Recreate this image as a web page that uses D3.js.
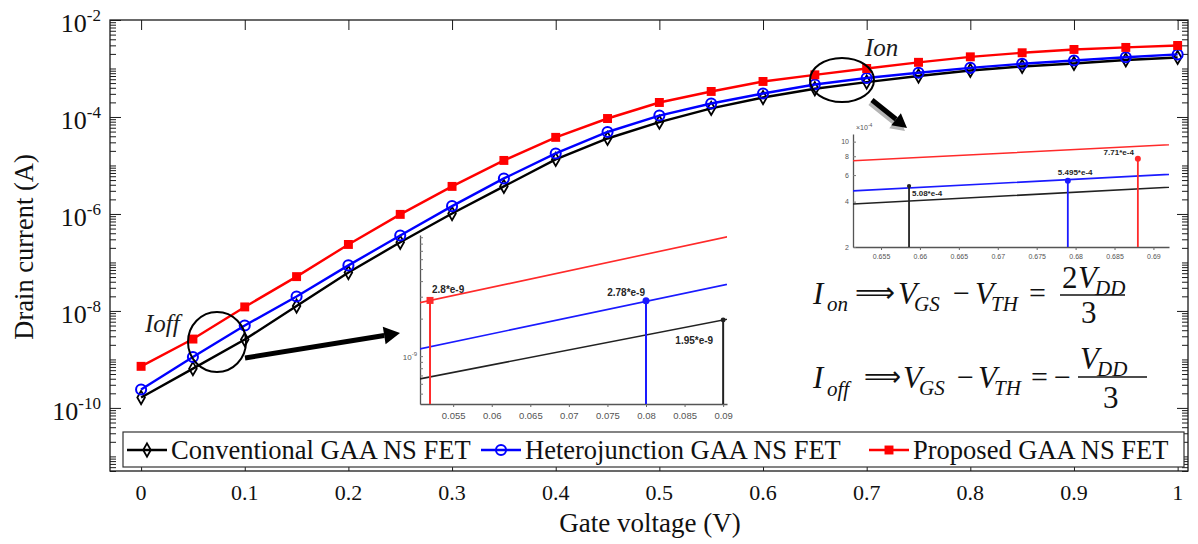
<!DOCTYPE html>
<html>
<head>
<meta charset="utf-8">
<script src="https://cdn.jsdelivr.net/npm/d3@7/dist/d3.min.js"></script>
<style>
  html, body { margin: 0; padding: 0; background: #fff; }
  svg { display: block; }
</style>
</head>
<body>
<svg id="chart" width="1198" height="544"></svg>
<script>
// Transfer characteristics of three GAA nanosheet FETs (drain current vs. gate voltage)
const gateVoltage = [0, 0.05, 0.1, 0.15, 0.2, 0.25, 0.3, 0.35, 0.4, 0.45, 0.5, 0.55, 0.6, 0.65, 0.7, 0.75, 0.8, 0.85, 0.9, 0.95, 1];
const conventionalCurrent = [1.64e-10, 6.45e-10, 2.57e-9, 1.26e-8, 6.2e-8, 2.6e-7, 1.02e-6, 3.7e-6, 1.33e-5, 3.6e-5, 7.8e-5, 1.5e-4, 2.52e-4, 3.82e-4, 5.24e-4, 7.0e-4, 9.1e-4, 1.1e-3, 1.27e-3, 1.5e-3, 1.69e-3];
const heterojunctionCurrent = [2.4e-10, 1.12e-9, 5.0e-9, 1.99e-8, 8.7e-8, 3.6e-7, 1.45e-6, 5.4e-6, 1.77e-5, 4.9e-5, 1.07e-4, 1.9e-4, 3.05e-4, 4.67e-4, 6.38e-4, 8.15e-4, 1.03e-3, 1.25e-3, 1.46e-3, 1.71e-3, 1.95e-3];
const proposedCurrent = [7.2e-10, 2.63e-9, 1.21e-8, 5.1e-8, 2.35e-7, 9.8e-7, 3.7e-6, 1.27e-5, 3.8e-5, 9.3e-5, 1.99e-4, 3.36e-4, 5.4e-4, 7.4e-4, 1.0e-3, 1.34e-3, 1.74e-3, 2.11e-3, 2.47e-3, 2.72e-3, 2.98e-3];

const seriesNames = ["Conventional GAA NS FET", "Heterojunction GAA NS FET", "Proposed GAA NS FET"];

const xTicks = [0, 0.1, 0.2, 0.3, 0.4, 0.5, 0.6, 0.7, 0.8, 0.9, 1];
const xTickLabels = ["0", "0.1", "0.2", "0.3", "0.4", "0.5", "0.6", "0.7", "0.8", "0.9", "1"];
const yLabelExponents = [-10, -8, -6, -4, -2];

// Off-state zoom (data tips)
const ioffTicks = [0.055, 0.06, 0.065, 0.07, 0.075, 0.08, 0.085, 0.09];
const ioffTipSeries = [2, 1, 0];
const ioffTipVoltage = [0.052, 0.08, 0.09];
const ioffTipCurrent = [2.8e-9, 2.78e-9, 1.95e-9];
const ioffTipText = ["2.8*e-9", "2.78*e-9", "1.95*e-9"];

// On-state zoom (data tips)
const ionTicks = [0.655, 0.66, 0.665, 0.67, 0.675, 0.68, 0.685, 0.69];
const ionYTicks = [2e-4, 4e-4, 6e-4, 8e-4, 1e-3];
const ionYTickLabels = ["2", "4", "6", "8", "10"];
const ionTipSeries = [2, 1, 0];
const ionTipVoltage = [0.688, 0.679, 0.6586];
const ionTipCurrent = [7.71e-4, 5.495e-4, 5.08e-4];
const ionTipText = ["7.71*e-4", "5.495*e-4", "5.08*e-4"];

const series = [conventionalCurrent, heterojunctionCurrent, proposedCurrent];
const colors = ["#000000", "#0000ff", "#ff0000"];
const insetColors = ["#222222", "#1a1aff", "#ff2a2a"];

const serif = '"Liberation Serif","Times New Roman",serif';
const sans = '"Liberation Sans",Arial,sans-serif';

const svg = d3.select("#chart");
svg.append("rect").attr("width", 1198).attr("height", 544).attr("fill", "#fff");

// ---------- main axes ----------
const plot = { left: 110, right: 1188, top: 20, bottom: 471 };
const x = d3.scaleLinear().domain([-0.03, 1.01]).range([plot.left, plot.right]);
const y = d3.scaleLog().domain([5e-12, 1e-2]).range([plot.bottom, plot.top]);

const majorY = yLabelExponents.map(e => Math.pow(10, e));
const minorY = [];
for (let e = -12; e <= -3; e++) {
  for (let m = 1; m <= 9; m++) {
    const v = m * Math.pow(10, e);
    if (v < 5e-12 || v > 1e-2) continue;
    if (m === 1 && yLabelExponents.includes(e)) continue;
    minorY.push(v);
  }
}

const axes = svg.append("g");
function styleAxis(g) {
  g.select(".domain").remove();
  g.selectAll("line").attr("stroke", "#1a1a1a").attr("stroke-width", 1);
  g.selectAll("text").remove();
}
axes.append("g").attr("transform", `translate(0,${plot.bottom})`)
  .call(d3.axisBottom(x).tickValues(xTicks).tickSizeInner(-10).tickSizeOuter(0)).call(styleAxis);
axes.append("g").attr("transform", `translate(0,${plot.top})`)
  .call(d3.axisTop(x).tickValues(xTicks).tickSizeInner(-10).tickSizeOuter(0)).call(styleAxis);
axes.append("g").attr("transform", `translate(${plot.left},0)`)
  .call(d3.axisLeft(y).tickValues(majorY).tickSizeInner(-11).tickSizeOuter(0)).call(styleAxis);
axes.append("g").attr("transform", `translate(${plot.left},0)`)
  .call(d3.axisLeft(y).tickValues(minorY).tickSizeInner(-6).tickSizeOuter(0)).call(styleAxis);
axes.append("g").attr("transform", `translate(${plot.right},0)`)
  .call(d3.axisRight(y).tickValues(majorY).tickSizeInner(-11).tickSizeOuter(0)).call(styleAxis);
axes.append("g").attr("transform", `translate(${plot.right},0)`)
  .call(d3.axisRight(y).tickValues(minorY).tickSizeInner(-6).tickSizeOuter(0)).call(styleAxis);

svg.append("rect")
  .attr("x", plot.left).attr("y", plot.top)
  .attr("width", plot.right - plot.left).attr("height", plot.bottom - plot.top)
  .attr("fill", "none").attr("stroke", "#1a1a1a").attr("stroke-width", 1.3);

// x tick labels
svg.append("g").selectAll("text").data(xTicks).join("text")
  .attr("x", d => x(d)).attr("y", 500)
  .attr("text-anchor", "middle")
  .attr("font-family", serif).attr("font-size", 22).attr("fill", "#111")
  .text((d, i) => xTickLabels[i]);

// y tick labels 10^n
const yl = svg.append("g").selectAll("text").data(majorY).join("text")
  .attr("x", 101).attr("y", d => y(d) + 12)
  .attr("text-anchor", "end")
  .attr("font-family", serif).attr("fill", "#111");
yl.append("tspan").attr("font-size", 26).text("10");
yl.append("tspan").attr("font-size", 17).attr("dy", -11).text((d, i) => "-" + (-yLabelExponents[i]));

// axis titles
svg.append("text").attr("x", 650).attr("y", 532).attr("text-anchor", "middle")
  .attr("font-family", serif).attr("font-size", 27).attr("fill", "#111").text("Gate voltage (V)");
svg.append("text").attr("transform", "translate(33,247) rotate(-90)").attr("text-anchor", "middle")
  .attr("font-family", serif).attr("font-size", 26.5).attr("fill", "#111").text("Drain current (A)");

// ---------- curves ----------
const line = d3.line().x((d, i) => x(gateVoltage[i])).y(d => y(d));
const curves = svg.append("g");
const markerShapes = [
  d3.symbol(d3.symbolDiamond, 50),
  d3.symbol(d3.symbolCircle, 80),
  d3.symbol(d3.symbolSquare, 80)
];
function drawMarker(sel, k) {
  sel.attr("d", markerShapes[k]());
  if (k === 0) sel.attr("fill", "none").attr("stroke", colors[0]).attr("stroke-width", 1.8);
  if (k === 1) sel.attr("fill", "none").attr("stroke", colors[1]).attr("stroke-width", 2);
  if (k === 2) sel.attr("fill", colors[2]).attr("stroke", "none");
}
series.forEach((s, k) => {
  const g = curves.append("g");
  g.append("path").datum(s).attr("d", line)
    .attr("fill", "none").attr("stroke", colors[k]).attr("stroke-width", 2.4);
  g.selectAll("path.m").data(s).join("path").attr("class", "m")
    .attr("transform", (d, i) => `translate(${x(gateVoltage[i])},${y(d)})`)
    .call(drawMarker, k);
});

// ---------- legend ----------
const legend = svg.append("g");
legend.append("rect").attr("x", 123).attr("y", 432).attr("width", 1061).attr("height", 35)
  .attr("fill", "#fff").attr("stroke", "#333").attr("stroke-width", 1.2);
const legendX = [127, 481, 869];
seriesNames.forEach((name, k) => {
  const lx = legendX[k];
  legend.append("line").attr("x1", lx).attr("x2", lx + 40).attr("y1", 450).attr("y2", 450)
    .attr("stroke", colors[k]).attr("stroke-width", 2.4);
  legend.append("path").attr("transform", `translate(${lx + 20},450)`).call(drawMarker, k);
  legend.append("text").attr("x", lx + 44).attr("y", 459)
    .attr("font-family", serif).attr("font-size", 26.5).attr("fill", "#111").text(name);
});

// ---------- annotations on the main plot ----------
const ann = svg.append("g");
ann.append("ellipse").attr("cx", 217).attr("cy", 342).attr("rx", 29).attr("ry", 30)
  .attr("fill", "none").attr("stroke", "#000").attr("stroke-width", 2);
ann.append("ellipse").attr("cx", 842).attr("cy", 80).attr("rx", 32).attr("ry", 22)
  .attr("fill", "none").attr("stroke", "#000").attr("stroke-width", 2);
ann.append("text").attr("x", 145).attr("y", 332).attr("font-family", serif).attr("font-style", "italic")
  .attr("font-size", 25).attr("fill", "#1b1b1b").text("Ioff");
ann.append("text").attr("x", 865).attr("y", 56).attr("font-family", serif).attr("font-style", "italic")
  .attr("font-size", 25).attr("fill", "#1b1b1b").text("Ion");

function arrow(g, x1, y1, x2, y2, w, head, color) {
  const a = Math.atan2(y2 - y1, x2 - x1);
  const bx = x2 - head * Math.cos(a), by = y2 - head * Math.sin(a);
  g.append("line").attr("x1", x1).attr("y1", y1).attr("x2", bx).attr("y2", by)
    .attr("stroke", color).attr("stroke-width", w);
  const hw = head * 0.55;
  g.append("path").attr("d",
    `M${x2},${y2} L${bx + hw * Math.sin(a)},${by - hw * Math.cos(a)} L${bx - hw * Math.sin(a)},${by + hw * Math.cos(a)} Z`)
    .attr("fill", color);
}
arrow(ann, 245, 358, 400, 333, 5, 16, "#000");
arrow(ann, 870, 103, 905, 131, 5, 14, "#b4b4b4");
arrow(ann, 872, 100, 907, 128, 5, 14, "#000");

// ---------- equations ----------
const eq = svg.append("g").attr("font-family", serif).attr("fill", "#111");
function put(txt, px, py, size, italic, extra) {
  const t = eq.append("text").attr("x", px).attr("y", py).attr("font-size", size)
    .attr("font-style", italic ? "italic" : "normal").text(txt);
  if (extra) extra(t);
  return t;
}
// I_on line
put("I", 813, 304, 31, true);
put("on", 827, 311, 21, true);
put("\u27F9", 855, 302, 28, false, t => t.attr("textLength", 40).attr("lengthAdjust", "spacingAndGlyphs").attr("font-family", '"DejaVu Sans",sans-serif'));
put("V", 898, 304, 31, true);
put("GS", 914, 311, 21, true);
put("\u2212", 953, 303, 30, false);
put("V", 975, 304, 31, true);
put("TH", 991, 311, 21, true);
put("=", 1029, 303, 30, false);
put("2", 1062, 288, 31, false);
put("V", 1078, 288, 31, true);
put("DD", 1095, 295, 21, true);
eq.append("line").attr("x1", 1060).attr("x2", 1125).attr("y1", 295).attr("y2", 295).attr("stroke", "#111").attr("stroke-width", 1.6);
put("3", 1081, 323, 31, false);
// I_off line
put("I", 813, 388, 31, true);
put("off", 827, 396, 21, true);
put("\u27F9", 864, 386, 28, false, t => t.attr("textLength", 37).attr("lengthAdjust", "spacingAndGlyphs").attr("font-family", '"DejaVu Sans",sans-serif'));
put("V", 903, 388, 31, true);
put("GS", 919, 395, 21, true);
put("\u2212", 957, 387, 30, false);
put("V", 978, 388, 31, true);
put("TH", 994, 395, 21, true);
put("=", 1031, 387, 30, false);
put("\u2212", 1054, 387, 30, false);
put("V", 1080, 369, 31, true);
put("DD", 1097, 376, 21, true);
eq.append("line").attr("x1", 1078).attr("x2", 1147).attr("y1", 377).attr("y2", 377).attr("stroke", "#111").attr("stroke-width", 1.6);
put("3", 1103, 408, 31, false);

// ---------- zoom insets ----------
const defs = svg.append("defs");
function inset(cfg) {
  const g = svg.append("g");
  const sx = d3.scaleLinear().domain(cfg.xDomain).range([cfg.left, cfg.right]);
  const sy = d3.scaleLog().domain(cfg.yDomain).range([cfg.bottom, cfg.top]);
  defs.append("clipPath").attr("id", cfg.id).append("rect")
    .attr("x", cfg.left).attr("y", cfg.top).attr("width", cfg.right - cfg.left).attr("height", cfg.bottom - cfg.top);
  g.append("rect").attr("x", cfg.left).attr("y", cfg.top).attr("width", cfg.right - cfg.left).attr("height", cfg.bottom - cfg.top).attr("fill", "#fff");
  const xa = g.append("g").attr("transform", `translate(0,${cfg.bottom})`)
    .call(d3.axisBottom(sx).tickValues(cfg.xTicks).tickSizeInner(3).tickSizeOuter(0).tickFormat(d3.format("~g")));
  xa.select(".domain").attr("stroke", "#555").attr("stroke-width", 1.3);
  xa.selectAll("line").attr("stroke", "#666");
  xa.selectAll("text").attr("font-family", sans).attr("font-size", cfg.fs).attr("fill", "#555").attr("dy", "0.9em");
  const ya = g.append("g").attr("transform", `translate(${cfg.left},0)`)
    .call(d3.axisLeft(sy).tickValues(cfg.yTicks).tickSizeInner(-3).tickSizeOuter(0).tickFormat(""));
  ya.select(".domain").attr("stroke", "#555").attr("stroke-width", 1.3);
  ya.selectAll("line").attr("stroke", "#777");
  const ln = d3.line().x((d, i) => sx(gateVoltage[i])).y(d => sy(d));
  const cl = g.append("g").attr("clip-path", `url(#${cfg.id})`);
  series.forEach((s, k) => {
    cl.append("path").datum(s).attr("d", ln).attr("fill", "none")
      .attr("stroke", insetColors[k]).attr("stroke-width", cfg.lw);
  });
  cfg.tipSeries.forEach((k, j) => {
    const px = sx(cfg.tipV[j]), py = sy(cfg.tipI[j]);
    g.append("line").attr("x1", px).attr("x2", px).attr("y1", cfg.bottom).attr("y2", py)
      .attr("stroke", insetColors[k]).attr("stroke-width", cfg.dropW);
    const shape = cfg.tipShape[j];
    if (shape === "square") {
      g.append("rect").attr("x", px - cfg.ms).attr("y", py - cfg.ms).attr("width", 2 * cfg.ms).attr("height", 2 * cfg.ms).attr("fill", insetColors[k]);
    } else {
      g.append("circle").attr("cx", px).attr("cy", py).attr("r", shape === "dot" ? cfg.ms * 0.7 : cfg.ms).attr("fill", insetColors[k]);
    }
    g.append("text").attr("x", px + cfg.tipDx[j]).attr("y", py + cfg.tipDy[j])
      .attr("text-anchor", cfg.tipAnchor[j])
      .attr("font-family", sans).attr("font-weight", "bold").attr("font-size", cfg.tipFs)
      .attr("fill", "#262626").text(cfg.tipText[j]);
  });
  return { g, sx, sy };
}

const ioffMinor = [];
for (let e = -10; e <= -9; e++) for (let m = 1; m <= 9; m++) ioffMinor.push(m * Math.pow(10, e));
const ioff = inset({
  id: "clipIoff", left: 420, right: 727, top: 235, bottom: 404,
  xDomain: [0.0507, 0.0905], yDomain: [4.13e-10, 9.38e-9],
  xTicks: ioffTicks, yTicks: ioffMinor.filter(v => v >= 4.13e-10 && v <= 9.38e-9),
  fs: 9.5, lw: 1.6, dropW: 2, ms: 3.5,
  tipSeries: ioffTipSeries, tipV: ioffTipVoltage, tipI: ioffTipCurrent, tipText: ioffTipText,
  tipShape: ["square", "circle", "dot"],
  tipDx: [2, -1, -10], tipDy: [-7, -5, 24], tipAnchor: ["start", "end", "end"], tipFs: 10
});
const ioffLab = ioff.g.append("text").attr("x", 417).attr("y", ioff.sy(1e-9) + 4).attr("text-anchor", "end")
  .attr("font-family", sans).attr("fill", "#555");
ioffLab.append("tspan").attr("font-size", 8).text("10");
ioffLab.append("tspan").attr("font-size", 6).attr("dy", -4).text("-9");

const ion = inset({
  id: "clipIon", left: 853, right: 1169, top: 134, bottom: 247,
  xDomain: [0.6514, 0.692], yDomain: [2e-4, 1.124e-3],
  xTicks: ionTicks, yTicks: ionYTicks,
  fs: 7, lw: 1.6, dropW: 1.8, ms: 3,
  tipSeries: ionTipSeries, tipV: ionTipVoltage, tipI: ionTipCurrent, tipText: ionTipText,
  tipShape: ["circle", "circle", "dot"],
  tipDx: [-4, -10, 3], tipDy: [-4, -6, 10], tipAnchor: ["end", "start", "start"], tipFs: 8
});
ion.g.append("g").selectAll("text").data(ionYTicks).join("text")
  .attr("x", 849).attr("y", d => ion.sy(d) + 2.5).attr("text-anchor", "end")
  .attr("font-family", sans).attr("font-size", 7).attr("fill", "#555")
  .text((d, i) => ionYTickLabels[i]);
const ionExp = ion.g.append("text").attr("x", 856).attr("y", 130).attr("font-family", sans).attr("fill", "#555");
ionExp.append("tspan").attr("font-size", 7).text("\u00d710");
ionExp.append("tspan").attr("font-size", 5).attr("dy", -3).text("-4");
</script>
</body>
</html>
